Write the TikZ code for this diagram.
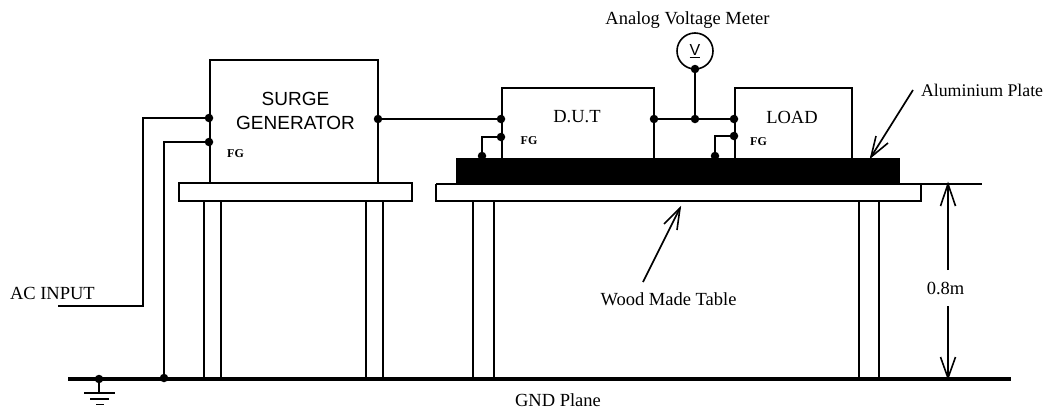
\documentclass[tikz,border=0pt]{standalone}
\usepackage{fontspec}
\setmainfont{Liberation Serif}
\newfontfamily\sansf{Liberation Sans}
\tikzset{
 every node/.style={inner sep=0pt,outer sep=0pt},
 wire/.style={line width=1.7pt},
 thin line/.style={line width=1.6pt},
 boxline/.style={line width=1.6pt},
 dotn/.style={circle,fill=black,minimum size=8.5pt},
 lab/.style={font=\fontsize{18.5}{20}\selectfont},
 fg/.style={font=\fontsize{12}{14}\selectfont\bfseries},
 sanslab/.style={font=\fontsize{19}{24}\selectfont\sansf,align=center},
 arrowhead/.style={line width=1.6pt},
}
\begin{document}
\begin{tikzpicture}[x=1pt,y=-1pt]
\useasboundingbox (0,0) rectangle (1045,410);
\coordinate (sTL) at (210,60); \coordinate (sTR) at (378,60); \coordinate (sBL) at (210,183); \coordinate (sBR) at (378,183);
\node[dotn] (sIn) at (209,118) {};
\node[dotn] (sFg) at (209,142) {};
\node[dotn] (sOut) at (378,119) {};
\draw[boxline] (sBL) -- (sTL) -- (sTR) -- (sBR);
\node[sanslab] (surge) at (295.5,111) {SURGE\\GENERATOR};
\node[fg] (fg1) at (235.5,154) {FG};
\node[dotn] (dIn) at (501,119) {};
\node[dotn] (dFg) at (501,137) {};
\node[dotn] (dOut) at (654,119) {};
\node[dotn] (mid) at (695,119) {};
\node[dotn] (lIn) at (734,119) {};
\node[dotn] (lFg) at (734,136) {};
\node[dotn] (dGnd) at (482,156) {};
\node[dotn] (lGnd) at (715,156) {};
\draw[boxline] (502,158) -- (502,88) -- (654,88) -- (654,158);
\draw[boxline] (735,158) -- (735,88) -- (852,88) -- (852,158);
\node[lab] (dut) at (577,117) {D.U.T};
\node[lab] (load) at (792,117) {LOAD};
\node[fg] (fg2) at (529,140.5) {FG};
\node[fg] (fg3) at (758.5,142) {FG};
\fill (456,158) rectangle (900,183);
\draw[boxline] (179,183) rectangle (412,201);
\draw[boxline] (436,184) -- (436,201) -- (921,201) -- (921,184);
\draw[thin line] (436,184) -- (982,184);
\foreach \x in {204,221,366,383,473,494,859,879} \draw[thin line] (\x,201) -- (\x,379);
\coordinate (gL) at (68,379); \coordinate (gR) at (1011,379);
\draw[line width=3.4pt] (gL) -- (gR);
\node[dotn] (gFg) at (164,378) {};
\node[dotn] (gSym) at (99,379) {};
\draw[wire] (gSym) -- (99,393);
\draw[wire] (84,393) -- (115,393) (90,399) -- (109,399) (96,404.5) -- (104,404.5);
\coordinate (acEnd) at (58,306);
\draw[wire] (sIn) -| (143,306) -- (acEnd);
\draw[wire] (sFg) -| (gFg);
\draw[wire] (sOut) -- (dIn);
\draw[wire] (dOut) -- (lIn);
\draw[wire] (dFg) -| (dGnd);
\draw[wire] (lFg) -| (lGnd);
\node[circle,draw,line width=1.6pt,minimum size=36pt,font=\fontsize{16}{18}\selectfont\sansf] (meter) at (695,51) {\underline{V}};
\draw[wire] (meter.south) -- (mid);
\node[dotn] at (meter.south) {};
\node[lab] (avm) at (687.5,20) {Analog Voltage Meter};
\node[lab,anchor=west] (ac) at (10,293) {AC INPUT};
\node[lab] (gnd) at (558,400.5) {GND Plane};
\node[lab] (wood) at (668.5,299) {Wood Made Table};
\node[lab,anchor=west,font=\fontsize{17.8}{20}\selectfont] (alu) at (921,90.5) {Aluminium Plate};
\node[lab] (h) at (945.5,288) {0.8m};
\coordinate (aluTip) at (871,157); \coordinate (aluTail) at (913,90);
\draw[wire] (aluTail) -- (aluTip);
\draw[arrowhead] (876,136) -- (aluTip) -- (888,143);
\coordinate (woodTip) at (680,208); \coordinate (woodTail) at (643,282);
\draw[wire] (woodTail) -- (woodTip);
\draw[arrowhead] (664,224) -- (woodTip) -- (677,230);
\coordinate (dTop) at (948,184); \coordinate (dBot) at (948,378);
\draw[wire] (948,270) -- (dTop);
\draw[wire] (948,306) -- (dBot);
\draw[arrowhead] (940.5,206) -- (dTop) -- (955.5,206);
\draw[arrowhead] (940.5,357) -- (dBot) -- (955.5,357);
\end{tikzpicture}
\end{document}
